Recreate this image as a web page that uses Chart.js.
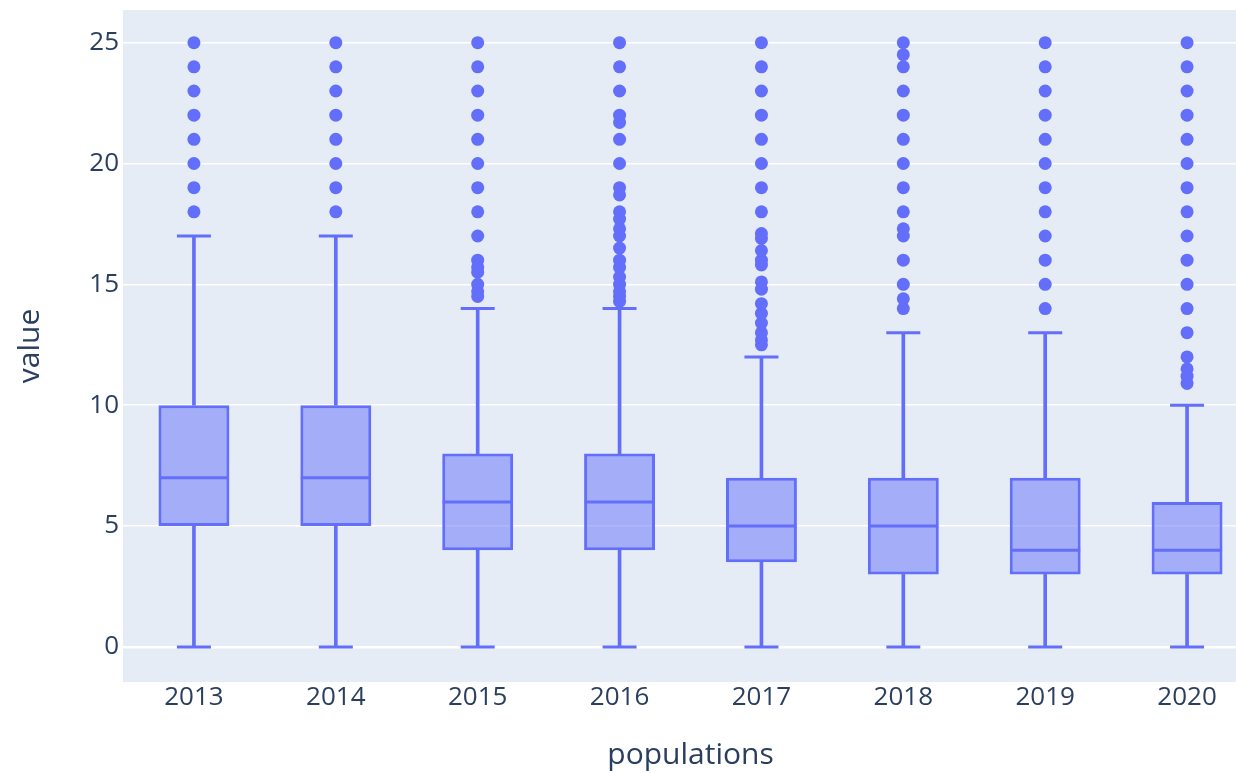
<!DOCTYPE html>
<html lang="en">
  <head>
    <title>populations</title>
    <script src="https://cdn.jsdelivr.net/npm/chart.js@4.4.1/dist/chart.umd.min.js"></script>
    <style>
      body{
        margin: 0;
        background-color: #ffffff;
        overflow: hidden;
      }
    </style>
  </head>
  <body>
    <canvas id="boxChart" width="1260" height="773"></canvas>

    <script>
      // box statistics per year
      const years = ["2013", "2014", "2015", "2016", "2017", "2018", "2019", "2020"];
      const lowerFence = [0, 0, 0, 0, 0, 0, 0, 0];
      const q1 = [5, 5, 4, 4, 3.5, 3, 3, 3];
      const medians = [7, 7, 6, 6, 5, 5, 4, 4];
      const q3 = [10, 10, 8, 8, 7, 7, 7, 6];
      const upperFence = [17, 17, 14, 14, 12, 13, 13, 10];

      // outlier points per year
      const out2013 = [18, 19, 20, 21, 22, 23, 24, 25];
      const out2014 = [18, 19, 20, 21, 22, 23, 24, 25];
      const out2015 = [14.5, 14.7, 15, 15.5, 15.7, 16, 17, 18, 19, 20, 21, 22, 23, 24, 25];
      const out2016 = [14.3, 14.5, 14.7, 15, 15.3, 15.7, 16, 16.5, 17, 17.3, 17.7, 18, 18.7, 19, 20, 21, 21.7, 22, 23, 24, 25];
      const out2017 = [12.5, 12.7, 13, 13.4, 13.8, 14.2, 14.8, 15.1, 15.8, 16, 16.4, 16.9, 17.1, 18, 19, 20, 21, 22, 23, 24, 25];
      const out2018 = [14, 14.4, 15, 16, 17, 17.3, 18, 19, 20, 21, 22, 23, 24, 24.5, 25];
      const out2019 = [14, 15, 16, 17, 18, 19, 20, 21, 22, 23, 24, 25];
      const out2020 = [10.9, 11.2, 11.5, 12, 13, 14, 15, 16, 17, 18, 19, 20, 21, 22, 23, 24, 25];
      const outliers = [out2013, out2014, out2015, out2016, out2017, out2018, out2019, out2020];

      const yTicks = [0, 5, 10, 15, 20, 25];

      const blue = "#636efa";
      const textColor = "#2a3f5f";

      let outlierPoints = [];
      outliers.forEach((list, i) => {
        list.forEach(v => outlierPoints.push({x: years[i], y: v}));
      });

      const plotBackground = {
        id: "plotBackground",
        beforeDraw(chart) {
          const a = chart.chartArea;
          const ctx = chart.ctx;
          ctx.save();
          ctx.fillStyle = "#e5ecf6";
          ctx.fillRect(a.left, a.top, a.right - a.left, a.bottom - a.top);
          ctx.restore();
        }
      };

      let boxCtx = document.getElementById("boxChart").getContext("2d");
      let boxChart = new Chart(boxCtx, {
        type: "bar",
        data: {
          labels: years,
          datasets: [
            {
              label: "outliers",
              type: "line",
              data: outlierPoints,
              showLine: false,
              pointRadius: 6.5,
              pointBorderWidth: 0,
              pointBackgroundColor: blue,
              order: 0
            },
            {
              label: "median",
              type: "line",
              data: medians,
              showLine: false,
              pointStyle: "line",
              pointRadius: 35,
              pointBorderWidth: 3,
              pointBorderColor: blue,
              order: 1
            },
            {
              label: "lower caps",
              type: "line",
              data: lowerFence,
              showLine: false,
              pointStyle: "line",
              pointRadius: 17,
              pointBorderWidth: 3,
              pointBorderColor: blue,
              order: 1
            },
            {
              label: "upper caps",
              type: "line",
              data: upperFence,
              showLine: false,
              pointStyle: "line",
              pointRadius: 17,
              pointBorderWidth: 3,
              pointBorderColor: blue,
              order: 1
            },
            {
              label: "box",
              data: years.map((y, i) => [q1[i], q3[i]]),
              backgroundColor: "rgba(99, 110, 250, 0.5)",
              borderColor: blue,
              borderWidth: 3,
              borderSkipped: false,
              grouped: false,
              barPercentage: 0.5,
              categoryPercentage: 1,
              order: 2
            },
            {
              label: "lower whisker",
              data: years.map((y, i) => [lowerFence[i], q1[i]]),
              backgroundColor: blue,
              grouped: false,
              barThickness: 3,
              order: 3
            },
            {
              label: "upper whisker",
              data: years.map((y, i) => [q3[i], upperFence[i]]),
              backgroundColor: blue,
              grouped: false,
              barThickness: 3,
              order: 3
            }
          ]
        },
        options: {
          responsive: false,
          animation: false,
          layout: {
            autoPadding: false,
            padding: {left: 0, right: 2, top: 10, bottom: 0}
          },
          plugins: {
            legend: {display: false},
            tooltip: {enabled: false}
          },
          scales: {
            x: {
              type: "category",
              offset: true,
              grid: {display: false, drawTicks: false},
              border: {display: false},
              ticks: {
                color: textColor,
                font: {family: "Open Sans", size: 26},
                padding: 0
              },
              title: {
                display: true,
                text: "populations",
                color: textColor,
                font: {family: "Open Sans", size: 30},
                padding: {top: 0, bottom: 0}
              },
              afterFit: (scale) => {
                scale.height = 91;
                scale.paddingLeft = 0;
                scale.paddingRight = 0;
              }
            },
            y: {
              min: -1.45,
              max: 26.35,
              grid: {
                color: "#ffffff",
                lineWidth: (c) => (c.tick && c.tick.value === 0 ? 2.5 : 1.5),
                drawTicks: false
              },
              border: {display: false},
              afterBuildTicks: (scale) => {
                scale.ticks = yTicks.map(v => ({value: v}));
              },
              ticks: {
                color: textColor,
                font: {family: "Open Sans", size: 26},
                padding: 4
              },
              title: {
                display: true,
                text: "value",
                color: textColor,
                font: {family: "Open Sans", size: 30},
                padding: {top: 12, bottom: 0}
              },
              afterFit: (scale) => {
                scale.width = 123;
                scale.paddingTop = 0;
                scale.paddingBottom = 0;
              }
            }
          }
        },
        plugins: [plotBackground]
      });
    </script>
  </body>
</html>
